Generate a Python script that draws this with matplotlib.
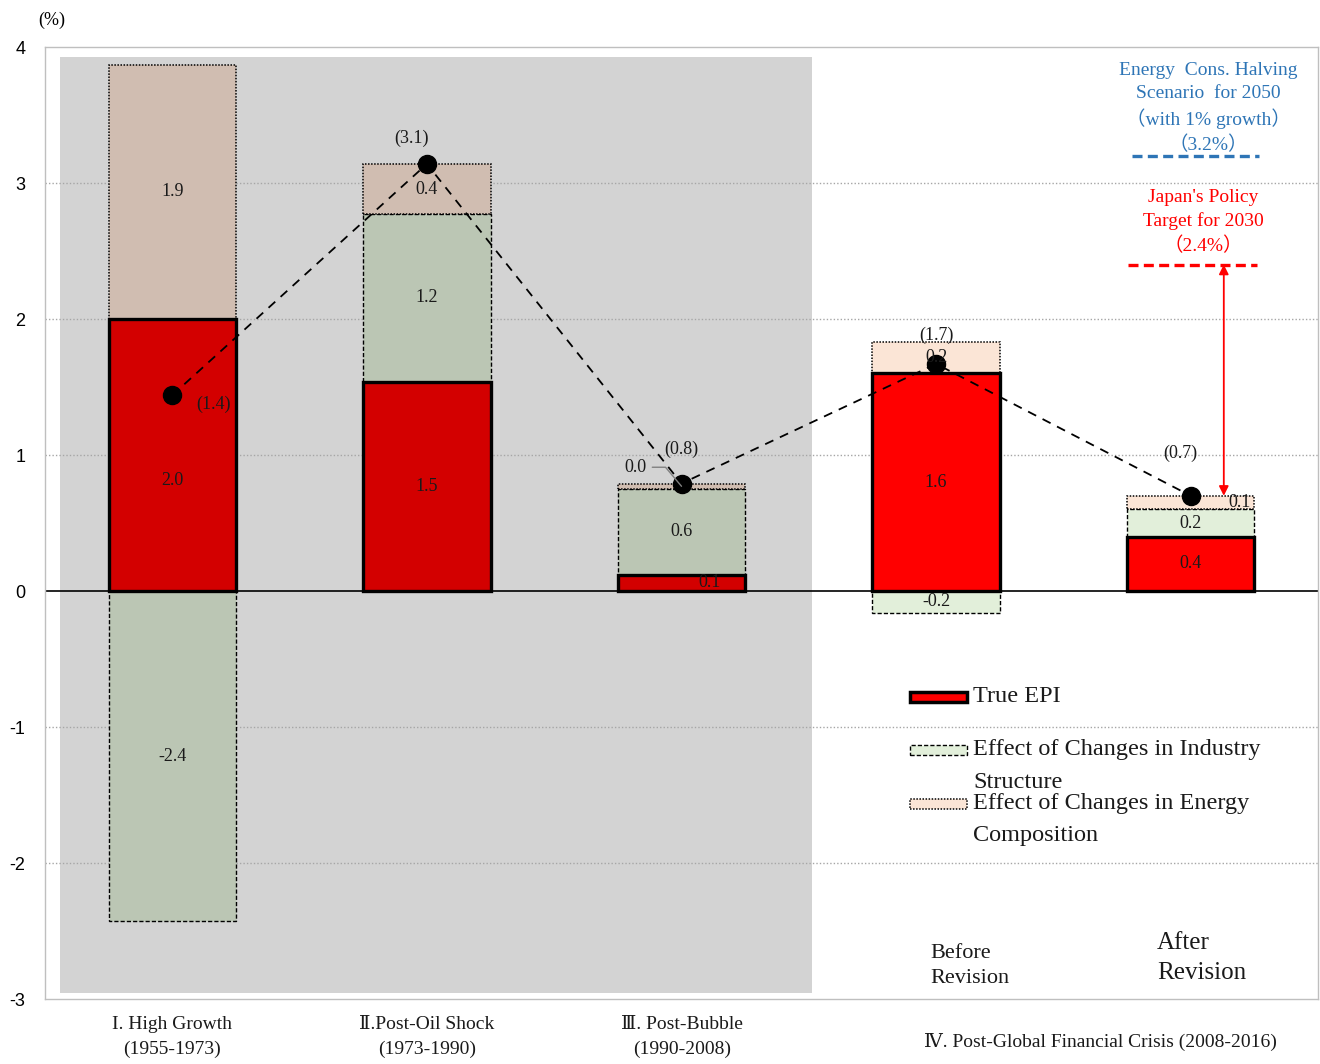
import matplotlib.pyplot as plt
import matplotlib.colors as mcolors
from matplotlib.patches import Rectangle
import numpy as np

plt.rcParams['font.family'] = ['Liberation Serif', 'DejaVu Serif', 'Noto Sans CJK JP']

# 期間ラベル
periods = ['I. High Growth\n(1955-1973)', 'Ⅱ.Post-Oil Shock\n(1973-1990)', 'Ⅲ. Post-Bubble\n(1990-2008)']
period4 = 'Ⅳ. Post-Global Financial Crisis (2008-2016)'
revisions = ['Before\nRevision', 'After\nRevision']

# 寄与度 (%)
epi = [2.0, 1.54, 0.12, 1.6, 0.4]          # True EPI
industry = [-2.43, 1.23, 0.63, -0.16, 0.2]  # 産業構造変化の効果
energy = [1.87, 0.37, 0.04, 0.23, 0.1]      # エネルギー構成変化の効果

target_2030 = 2.4
scenario_2050 = 3.2

RED = '#ff0000'
GREEN = '#e2efda'
PEACH = '#fbe5d6'
SHADE = 0.827  # 灰色背景の乗算


def shaded(c, i):
    rgb = np.array(mcolors.to_rgb(c))
    return rgb * SHADE if i < 3 else rgb


x = np.arange(5)
epi = np.array(epi)
industry = np.array(industry)
energy = np.array(energy)
total = epi + industry + energy

ind_bottom = np.where(industry >= 0, epi, 0)
en_bottom = epi + np.maximum(industry, 0)

fig = plt.figure(figsize=(13.2, 10.64), dpi=100)
ax = fig.add_axes([45 / 1320, 1 - 999 / 1064, 1273 / 1320, 952 / 1064])
ax.set_xlim(-0.5, 4.5)
ax.set_ylim(-3, 4)

# 灰色の背景（I～III期）
ax.add_patch(Rectangle((-0.44, -2.955), 2.954, 6.88, facecolor='#d3d3d3', lw=0, zorder=0.5))

for yy in range(-2, 4):
    if yy != 0:
        ax.axhline(yy, color='#a6a6a6', ls=(0, (1, 1.5)), lw=1, zorder=1)
ax.axhline(0, color='black', lw=1.2, zorder=1.5)

w = 0.5
for i in range(5):
    ax.bar(x[i], epi[i], w, color=shaded(RED, i), edgecolor='black', lw=2.4, zorder=3)
    ax.bar(x[i], industry[i], w, bottom=ind_bottom[i], color=shaded(GREEN, i),
           edgecolor='black', lw=1, ls=(0, (3, 1.5)), zorder=2)
    ax.bar(x[i], energy[i], w, bottom=en_bottom[i], color=shaded(PEACH, i),
           edgecolor='black', lw=1.1, ls=(0, (1, 1)), zorder=2)

# 数値ラベル
epi_off = {0: (0, -0.19), 2: (0.11, 0)}
en_off = {4: (0.19, 0)}
for i in range(5):
    dx, dy = epi_off.get(i, (0, 0))
    ax.text(x[i] + dx, epi[i] / 2 + dy, f'{epi[i]:.1f}', ha='center', va='center',
            fontsize=13, color='#1a1a1a', zorder=6)
    ax.text(x[i], ind_bottom[i] + industry[i] / 2, f'{industry[i]:.1f}', ha='center',
            va='center', fontsize=13, color='#1a1a1a', zorder=6)
    if i == 2:
        ax.annotate(f'{energy[i]:.1f}', xy=(x[i], en_bottom[i] + energy[i] / 2),
                    xytext=(1.82, 0.91), ha='center', va='center', fontsize=13,
                    color='#1a1a1a', zorder=6,
                    arrowprops=dict(arrowstyle='-', color='#808080', lw=1,
                                    shrinkA=2, shrinkB=0,
                                    connectionstyle='angle,angleA=0,angleB=130,rad=0'))
    else:
        dx, dy = en_off.get(i, (0, 0))
        ax.text(x[i] + dx, en_bottom[i] + energy[i] / 2 + dy, f'{energy[i]:.1f}',
                ha='center', va='center', fontsize=13, color='#1a1a1a', zorder=6)

# 合計（点線）
ax.plot(x, total, color='black', ls=(0, (5, 4)), lw=1.3, marker='o', ms=13, zorder=5)
tot_off = [(0.16, -0.065), (-0.06, 0.19), (0, 0.25), (0, 0.21), (-0.04, 0.31)]
for i in range(5):
    dx, dy = tot_off[i]
    ax.text(x[i] + dx, total[i] + dy, f'({total[i]:.1f})', ha='center', va='center',
            fontsize=13, color='#1a1a1a', zorder=6)

# 目標ライン
ax.plot([3.77, 4.27], [scenario_2050] * 2, color='#2e75b6', lw=2.4, ls=(0, (3, 1.6)), zorder=4)
ax.plot([3.755, 4.26], [target_2030] * 2, color='#ff0000', lw=2.4, ls=(0, (3, 1.6)), zorder=4)
ax.text(4.07, 3.55, 'Energy  Cons. Halving\nScenario  for 2050\n（with 1% growth）\n（3.2%）',
        ha='center', va='center', fontsize=14, color='#2e75b6', linespacing=1.42)
ax.text(4.05, 2.71, "Japan's Policy\nTarget for 2030\n（2.4%）", ha='center', va='center',
        fontsize=14, color='#ff0000', linespacing=1.45)
ax.annotate('', xy=(4.13, target_2030), xytext=(4.13, total[4]),
            arrowprops=dict(arrowstyle='<|-|>', color='red', lw=1.3, mutation_scale=14,
                            shrinkA=0, shrinkB=0), zorder=4)

# 軸
for s in ax.spines.values():
    s.set_color('#bfbfbf')
    s.set_linewidth(1)
ax.set_xticks([])
ax.set_yticks(range(-3, 5))
ax.set_yticklabels([str(v) for v in range(-3, 5)], family='Liberation Sans', fontsize=13)
ax.tick_params(axis='y', length=0, pad=14)

for i, lab in enumerate(periods):
    fig.text((172 + 255 * i) / 1320, 1 - 1037 / 1064, lab, ha='center', va='center',
             fontsize=14, color='#1a1a1a', linespacing=1.6)
fig.text(1100 / 1320, 1 - 1042 / 1064, period4, ha='center', va='center', fontsize=14,
         color='#1a1a1a')
fig.text(930 / 1320, 1 - 966 / 1064, revisions[0], ha='left', va='center', fontsize=16,
         color='#1a1a1a', linespacing=1.45)
fig.text(1157 / 1320, 1 - 958 / 1064, revisions[1], ha='left', va='center', fontsize=18,
         color='#1a1a1a', linespacing=1.45)
fig.text(52 / 1320, 1 - 20 / 1064, '(%)', ha='center', va='center', fontsize=13)

# 凡例
legend_items = [
    ('True EPI', RED, '-', 2.5, 697),
    ('Effect of Changes in Industry\nStructure', GREEN, (0, (3, 1.5)), 1, 750),
    ('Effect of Changes in Energy\nComposition', PEACH, (0, (1, 1)), 1.1, 804),
]
for label, fc, ls, lw, yp in legend_items:
    fig.add_artist(Rectangle((910 / 1320, 1 - (yp + 5) / 1064), 57 / 1320, 10 / 1064,
                             transform=fig.transFigure, facecolor=fc, edgecolor='black',
                             ls=ls, lw=lw))
    lines = label.split('\n')
    for k, ln in enumerate(lines):
        fig.text(973 / 1320, 1 - (yp + 32 * k) / 1064, ln, ha='left', va='center',
                 fontsize=17.5, color='#1a1a1a')

fig.savefig('out.png', dpi=100)
